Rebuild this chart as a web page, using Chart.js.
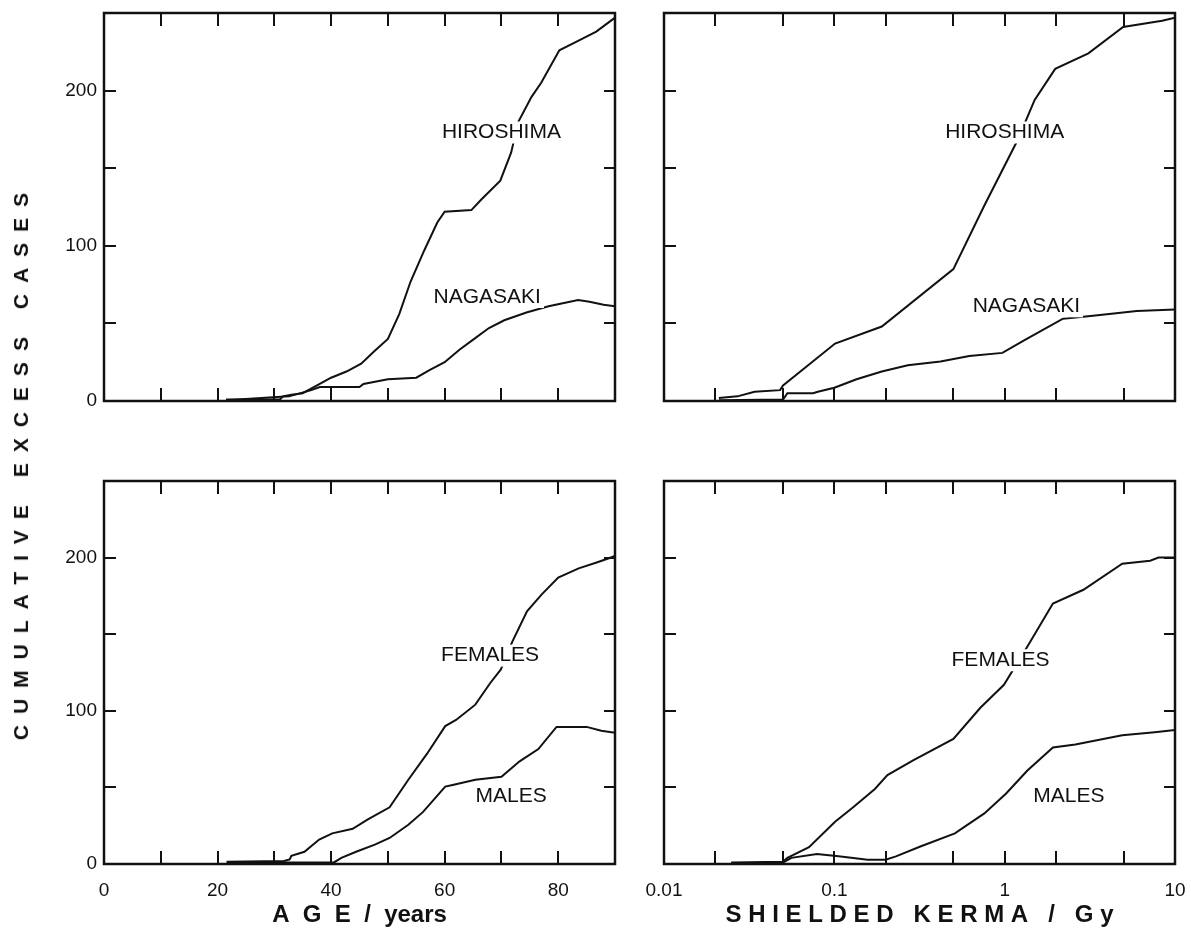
<!DOCTYPE html>
<html>
<head>
<meta charset="utf-8">
<script src="https://cdn.jsdelivr.net/npm/chart.js@4.4.1/dist/chart.umd.min.js"></script>
<style>
  body { margin: 0; background: #fff; width: 1191px; height: 934px; position: relative; overflow: hidden; }
  canvas { position: absolute; }
  #ytitle {
    position: absolute; left: 21px; top: 461px;
    transform: translate(-50%, -50%) rotate(-90deg);
    font: bold 21px "Liberation Sans", Arial, sans-serif;
    letter-spacing: 11px; white-space: nowrap; color: #111;
  }
</style>
</head>
<body>
<canvas id="tl" width="640" height="460" style="left:0;top:-20px"></canvas>
<canvas id="tr" width="551" height="440" style="left:640px;top:0"></canvas>
<canvas id="bl" width="640" height="494" style="left:0;top:440px"></canvas>
<canvas id="br" width="611" height="494" style="left:600px;top:440px"></canvas>
<div id="ytitle">CUMULATIVE EXCESS CASES</div>
<script>
// tick values
const ageLabels = [0, 20, 40, 60, 80];
const ageTicks = [10, 20, 30, 40, 50, 60, 70, 80];
const kermaLabels = [0.01, 0.1, 1, 10];
const kermaTicks = [0.02, 0.05, 0.1, 0.2, 0.5, 1, 2, 5];
const countLabels = [0, 100, 200];
const countTicks = [50, 100, 150, 200];

// top left: by age, city
const hiroAgeX = [21.5, 31, 31.5, 33, 35, 38, 40, 42.7, 45.3, 47.6, 50, 52, 54, 56.4, 58.7, 60, 64.7, 66.5, 69.8, 71.7, 73, 75.3, 77, 80.2, 83.5, 86.7, 90];
const hiroAgeY = [1, 1, 3, 4, 5, 11, 15, 19, 24, 32, 40, 56, 77, 97, 115, 122, 123, 130, 142, 160, 180, 196, 205, 226, 232, 238, 247];
const nagaAgeX = [21.5, 32.6, 36.5, 38, 45, 45.7, 50, 55, 57.4, 60, 62.6, 65.2, 67.8, 70.5, 74.4, 78.3, 83.5, 85.5, 88, 90];
const nagaAgeY = [0.5, 3, 7, 9, 9, 11, 14, 15, 20, 25, 33, 40, 47, 52, 57, 61, 65, 64, 62, 61];

// top right: by kerma, city
const hiroKermaX = [0.021, 0.027, 0.034, 0.048, 0.05, 0.101, 0.19, 0.5, 0.76, 1.19, 1.5, 1.98, 3.1, 4.96, 8.4, 10];
const hiroKermaY = [2, 3, 6, 7, 10, 37, 48, 85, 126, 168, 194, 214, 224, 241, 245, 247];
const nagaKermaX = [0.021, 0.05, 0.053, 0.075, 0.08, 0.1, 0.135, 0.19, 0.27, 0.42, 0.62, 0.97, 1.3, 2.2, 3.3, 5.97, 10];
const nagaKermaY = [0.5, 1, 5, 5, 6, 8.5, 14, 19, 23, 25.5, 29, 31, 39, 53, 55, 58, 59];

// bottom left: by age, sex
const femAgeX = [21.6, 31.7, 32.7, 33, 35.3, 37.9, 40.2, 43.8, 46.4, 50.3, 53.6, 56.9, 60.1, 62, 65.4, 68, 69.9, 71.9, 74.5, 77.1, 80, 83.6, 86.9, 90];
const femAgeY = [1.5, 2, 3, 5.4, 8, 16, 20, 23, 29, 37, 55, 72, 90, 94, 104, 118, 127, 145, 165, 176, 187, 193, 197, 201];
const malAgeX = [21.6, 40.5, 41.8, 44.4, 47.7, 50.3, 53.6, 56.2, 60.1, 61.4, 65.4, 70, 73.2, 76.5, 79.7, 85, 87.6, 90];
const malAgeY = [1, 1, 4, 8, 12.6, 17, 25.6, 34, 50.5, 51.6, 55, 57, 67, 75, 89.5, 89.5, 87, 85.6];

// bottom right: by kerma, sex
const femKermaX = [0.0248, 0.05, 0.053, 0.071, 0.101, 0.129, 0.173, 0.205, 0.29, 0.5, 0.72, 0.99, 1.36, 1.92, 2.9, 4.9, 7.15, 8, 10];
const femKermaY = [1, 1.5, 4, 11, 27.6, 37, 49, 58, 67.6, 81.6, 102, 117, 142, 170, 179, 196, 198, 200, 200];
const malKermaX = [0.0248, 0.05, 0.056, 0.079, 0.106, 0.157, 0.2, 0.23, 0.32, 0.51, 0.76, 1.02, 1.36, 1.92, 2.6, 4.9, 7.6, 10];
const malKermaY = [0.5, 1, 4, 6.5, 5, 2.8, 2.8, 5, 11.4, 20, 33, 46, 61, 76, 78, 84, 86, 87.5];

const FONT = '"Liberation Sans", Arial, sans-serif';
const INK = '#111';

// frame, inward ticks and curve names
const framePlugin = {
  id: 'frame',
  afterDatasetsDraw(chart, args, opts) {
    const { ctx, chartArea: a } = chart;
    const x = chart.scales.x, y = chart.scales.y;
    ctx.save();
    ctx.strokeStyle = INK;
    ctx.lineWidth = 2;
    ctx.beginPath();
    opts.xTicks.forEach(v => {
      const p = Math.round(x.getPixelForValue(v));
      ctx.moveTo(p, a.top); ctx.lineTo(p, a.top + 13);
      ctx.moveTo(p, a.bottom); ctx.lineTo(p, a.bottom - 13);
    });
    countTicks.forEach(v => {
      const p = Math.round(y.getPixelForValue(v));
      ctx.moveTo(a.left, p); ctx.lineTo(a.left + 12, p);
      ctx.moveTo(a.right, p); ctx.lineTo(a.right - 11, p);
    });
    ctx.stroke();
    ctx.lineWidth = 2.5;
    ctx.strokeRect(a.left, a.top, a.right - a.left, a.bottom - a.top);

    ctx.font = '21px ' + FONT;
    ctx.textAlign = 'center';
    ctx.textBaseline = 'middle';
    opts.names.forEach(n => {
      const px = x.getPixelForValue(n.x), py = y.getPixelForValue(n.y);
      const w = ctx.measureText(n.text).width;
      ctx.fillStyle = '#fff';
      ctx.fillRect(px - w / 2 - 3, py - 11, w + 6, 22);
      ctx.fillStyle = INK;
      ctx.fillText(n.text, px, py);
    });
    ctx.restore();
  }
};

function pts(xs, ys) {
  return xs.map((v, i) => ({ x: v, y: ys[i] }));
}

function makeChart(id, c) {
  return new Chart(document.getElementById(id), {
    type: 'line',
    data: {
      datasets: c.series.map(s => ({
        data: pts(s[0], s[1]),
        borderColor: INK, borderWidth: 2, pointRadius: 0, tension: 0, fill: false
      }))
    },
    options: {
      responsive: false, animation: false, events: [],
      layout: { padding: c.padding },
      plugins: {
        legend: { display: false },
        tooltip: { enabled: false },
        frame: { xTicks: c.xTicks, names: c.names }
      },
      scales: {
        x: {
          type: c.log ? 'logarithmic' : 'linear',
          min: c.min, max: c.max,
          grid: { display: false, drawTicks: false }, border: { display: false },
          afterBuildTicks: s => { s.ticks = c.xLabels.map(v => ({ value: v })); },
          afterFit: s => { s.height = c.xHeight; },
          ticks: {
            display: c.showX, padding: 15, color: INK, autoSkip: false, maxRotation: 0,
            font: { family: FONT, size: 19 },
            callback: v => String(v)
          },
          title: {
            display: !!c.xTitle, text: c.xTitle || '', color: INK,
            font: { family: FONT, size: 24, weight: 'bold' },
            padding: { top: 0, bottom: 4 }
          }
        },
        y: {
          min: 0, max: 250,
          grid: { display: false, drawTicks: false }, border: { display: false },
          afterBuildTicks: s => { s.ticks = countLabels.map(v => ({ value: v })); },
          afterFit: s => { s.width = c.yWidth; },
          ticks: {
            display: c.showY, padding: 7, color: INK,
            font: { family: FONT, size: 19 },
            callback: v => String(v)
          }
        }
      }
    },
    plugins: [framePlugin]
  });
}

makeChart('tl', {
  series: [[hiroAgeX, hiroAgeY], [nagaAgeX, nagaAgeY]],
  min: 0, max: 90, xLabels: ageLabels, xTicks: ageTicks, showX: false, showY: true,
  padding: { top: 33, right: 25, left: 0, bottom: 0 }, yWidth: 104, xHeight: 39,
  names: [{ text: 'HIROSHIMA', x: 70, y: 173 }, { text: 'NAGASAKI', x: 67.5, y: 67 }]
});
makeChart('tr', {
  series: [[hiroKermaX, hiroKermaY], [nagaKermaX, nagaKermaY]],
  log: true, min: 0.01, max: 10, xLabels: kermaLabels, xTicks: kermaTicks, showX: false, showY: false,
  padding: { top: 13, right: 16, left: 0, bottom: 0 }, yWidth: 24, xHeight: 39,
  names: [{ text: 'HIROSHIMA', x: 1.0, y: 173 }, { text: 'NAGASAKI', x: 1.34, y: 61 }]
});
makeChart('bl', {
  series: [[femAgeX, femAgeY], [malAgeX, malAgeY]],
  min: 0, max: 90, xLabels: ageLabels, xTicks: ageTicks, showX: true, showY: true,
  padding: { top: 41, right: 25, left: 0, bottom: 0 }, yWidth: 104, xHeight: 70,
  xTitle: 'A  G  E  /  years',
  names: [{ text: 'FEMALES', x: 68, y: 136 }, { text: 'MALES', x: 71.7, y: 44 }]
});
makeChart('br', {
  series: [[femKermaX, femKermaY], [malKermaX, malKermaY]],
  log: true, min: 0.01, max: 10, xLabels: kermaLabels, xTicks: kermaTicks, showX: true, showY: false,
  padding: { top: 41, right: 36, left: 0, bottom: 0 }, yWidth: 64, xHeight: 70,
  xTitle: 'S H I E L D E D   K E R M A   /   G y',
  names: [{ text: 'FEMALES', x: 0.946, y: 133 }, { text: 'MALES', x: 2.38, y: 44 }]
});
</script>
</body>
</html>
